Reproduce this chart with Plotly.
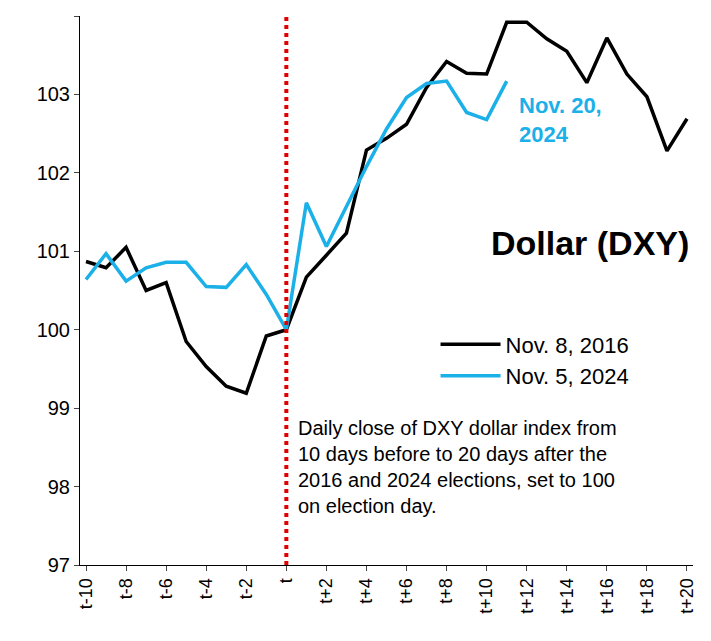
import plotly.graph_objects as go

days = list(range(-10, 21))
tick_labels = ["t" if d == 0 else (f"t{d:+d}") for d in days]
dxy_2016 = [100.87, 100.79, 101.05, 100.50, 100.60, 99.85, 99.53, 99.28, 99.19, 99.92, 100.0,
            100.67, 100.95, 101.23, 102.29, 102.44, 102.62, 103.09, 103.42, 103.27, 103.26,
            103.92, 103.92, 103.71, 103.55, 103.15, 103.72, 103.26, 102.97, 102.28, 102.69]
dxy_2024 = [100.64, 100.97, 100.62, 100.79, 100.86, 100.86, 100.55, 100.54, 100.83, 100.45, 100.0,
            101.62, 101.06, 101.58, 102.08, 102.56, 102.96, 103.14, 103.17, 102.77, 102.68, 103.17]

fig = go.Figure()
fig.add_trace(go.Scatter(x=days, y=dxy_2016, mode="lines", name="Nov. 8, 2016",
                         line=dict(color="black", width=3.5)))
fig.add_trace(go.Scatter(x=days[:len(dxy_2024)], y=dxy_2024, mode="lines", name="Nov. 5, 2024",
                         line=dict(color="#1cb0e8", width=3.5)))
fig.add_vline(x=0, line=dict(color="#e00000", width=4, dash="dot"))

fig.add_annotation(x=-8.0, y=104.05, text="<b>Election<br>day</b>", showarrow=False, align="left",
                   xanchor="left", yanchor="top", font=dict(size=31, color="#e00000"))
fig.add_annotation(x=11.5, y=103.05, text="<b>Nov. 20,<br>2024</b>", showarrow=False, align="left",
                   xanchor="left", yanchor="top", font=dict(size=22, color="#1cb0e8"))
fig.add_annotation(x=20.2, y=101.1, text="<b>Dollar (DXY)</b>", showarrow=False,
                   xanchor="right", yanchor="middle", font=dict(size=34, color="black"))
fig.add_annotation(x=0.5, y=98.25, text="Daily close of DXY dollar index from<br>10 days before to 20 days after the<br>2016 and 2024 elections, set to 100<br>on election day.",
                   showarrow=False, align="left", xanchor="left", yanchor="middle",
                   font=dict(size=20, color="black"))

fig.update_layout(
    width=711, height=641, plot_bgcolor="white", paper_bgcolor="white",
    margin=dict(l=72, r=26, t=8, b=84),
    font=dict(family="Liberation Sans, Arial", color="black"),
    legend=dict(x=0.58, y=0.44, xanchor="left", yanchor="top", font=dict(size=22),
                bgcolor="rgba(0,0,0,0)", itemwidth=60, tracegroupgap=12),
    xaxis=dict(range=[-10.3, 20.3], tickmode="array", tickvals=days[::2], ticktext=tick_labels[::2],
               tickangle=-90, showgrid=False, showline=True, linecolor="black", linewidth=1,
               ticks="outside", tickfont=dict(size=18), zeroline=False),
    yaxis=dict(range=[97, 104], dtick=1, showgrid=False, showline=True, linecolor="black",
               linewidth=1, ticks="outside", tickfont=dict(size=20), zeroline=False),
)
fig.write_html("out.html")
